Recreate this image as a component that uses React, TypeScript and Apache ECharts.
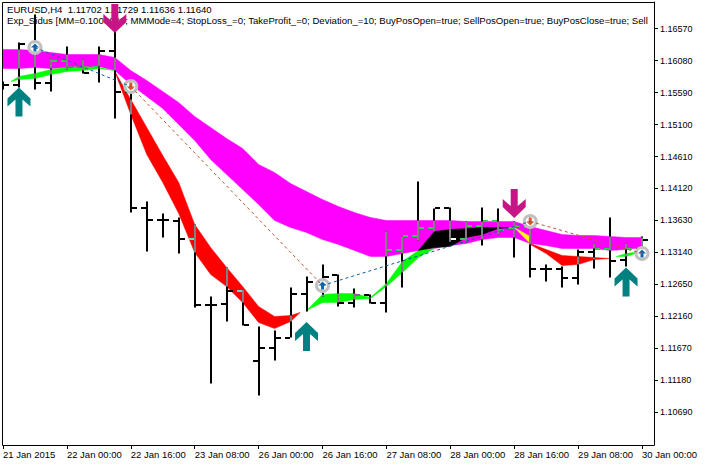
import React, { useEffect, useRef } from "react";
import * as echarts from "echarts";

const headerLine1 = "EURUSD,H4  1.11702 1.11729 1.11636 1.11640";
const headerLine2 =
  "Exp_Sidus [MM=0.1000000; MMMode=4; StopLoss_=0; TakeProfit_=0; Deviation_=10; BuyPosOpen=true; SellPosOpen=true; BuyPosClose=true; SellPosClose=true]";

const timeLabels = ["21 Jan 2015", "22 Jan 00:00", "22 Jan 16:00", "23 Jan 08:00", "26 Jan 00:00", "26 Jan 16:00", "27 Jan 08:00", "28 Jan 00:00", "28 Jan 16:00", "29 Jan 08:00", "30 Jan 00:00"];
const timeTicks = [0, 4, 8, 12, 16, 20, 24, 28, 32, 36, 40];
const priceTicks = [1.1657, 1.1608, 1.1559, 1.151, 1.1461, 1.1412, 1.1363, 1.1314, 1.1265, 1.1216, 1.1167, 1.1118, 1.1069];

const opens = [1.15667, 1.15698, 1.1634, 1.15728, 1.1608, 1.15973, 1.15988, 1.16218, 1.15605, 1.13814, 1.1363, 1.13615, 1.13339, 1.12329, 1.12344, 1.12543, 1.11486, 1.1167, 1.11838, 1.12497, 1.12681, 1.12788, 1.12374, 1.12482, 1.12374, 1.13171, 1.13385, 1.13508, 1.13814, 1.13339, 1.13539, 1.13615, 1.13508, 1.13523, 1.1288, 1.1288, 1.12742, 1.13155, 1.13201, 1.13032, 1.13201];
const highs = [1.15758, 1.16356, 1.16784, 1.16111, 1.16294, 1.16095, 1.16294, 1.16861, 1.15713, 1.13921, 1.13737, 1.13676, 1.13569, 1.12466, 1.1291, 1.12573, 1.12007, 1.11946, 1.12604, 1.12772, 1.12956, 1.12803, 1.12589, 1.12497, 1.13462, 1.13385, 1.14227, 1.13814, 1.13829, 1.13615, 1.13829, 1.13814, 1.13615, 1.13539, 1.12956, 1.12926, 1.13186, 1.13278, 1.13676, 1.13278, 1.13385];
const lows = [1.15636, 1.15667, 1.15636, 1.15605, 1.15942, 1.15881, 1.15743, 1.15192, 1.13753, 1.13155, 1.1337, 1.13125, 1.12298, 1.11134, 1.12083, 1.12022, 1.1095, 1.11486, 1.11838, 1.12237, 1.12466, 1.12313, 1.12298, 1.12359, 1.12221, 1.12604, 1.13324, 1.13462, 1.13309, 1.13293, 1.13247, 1.13416, 1.13063, 1.12757, 1.12696, 1.12604, 1.1265, 1.12895, 1.12757, 1.12926, 1.1314];
const closes = [1.15698, 1.1634, 1.15728, 1.1608, 1.15973, 1.15896, 1.16218, 1.15605, 1.13814, 1.1363, 1.1363, 1.13339, 1.12329, 1.12329, 1.12543, 1.12022, 1.1167, 1.11838, 1.12497, 1.12681, 1.12772, 1.12359, 1.12482, 1.12374, 1.13171, 1.13385, 1.13508, 1.13814, 1.13339, 1.13539, 1.13615, 1.13492, 1.13539, 1.1288, 1.1288, 1.12742, 1.13155, 1.13201, 1.13017, 1.13201, 1.13324];

const slowX = [0, 1, 2, 3, 4, 5, 6, 7, 8, 9, 10, 11, 12, 13, 14, 15, 16, 17, 18, 19, 20, 21, 22, 23, 24, 25, 26, 27, 28, 29, 30, 31, 32, 33, 34, 35, 36, 37, 38, 39, 40];
const slowTop = [1.16248, 1.16248, 1.16233, 1.16202, 1.16172, 1.16172, 1.16172, 1.16126, 1.15927, 1.15774, 1.15605, 1.15437, 1.15223, 1.15054, 1.14886, 1.14733, 1.14488, 1.14365, 1.14197, 1.14074, 1.13952, 1.13844, 1.13752, 1.13676, 1.1363, 1.1363, 1.1363, 1.1363, 1.1363, 1.13615, 1.13615, 1.13615, 1.13615, 1.13539, 1.13477, 1.13416, 1.134, 1.134, 1.13385, 1.1337, 1.1337];
const slowBottom = [1.15958, 1.15958, 1.15973, 1.15958, 1.15973, 1.15973, 1.15988, 1.15927, 1.15713, 1.15529, 1.15345, 1.151, 1.14855, 1.14564, 1.14334, 1.14105, 1.13875, 1.1363, 1.13523, 1.13446, 1.13339, 1.13263, 1.13171, 1.13079, 1.13079, 1.13125, 1.13171, 1.13201, 1.13247, 1.13278, 1.13339, 1.1337, 1.1337, 1.13278, 1.13247, 1.13201, 1.13201, 1.13201, 1.13171, 1.13186, 1.13216];

const green1X = [0.5, 1, 2, 3, 4, 5, 6, 7];
const green1Top = [1.15758, 1.15835, 1.15881, 1.15942, 1.15973, 1.15988, 1.15973, 1.15927];
const green1Bottom = [1.15758, 1.15789, 1.15805, 1.15866, 1.15912, 1.15927, 1.15958, 1.15927];

const red1X = [7, 8, 9, 10, 11, 12, 13, 14, 15, 16, 17, 18, 18.6];
const red1Top = [1.15912, 1.15483, 1.15054, 1.14625, 1.14212, 1.13569, 1.13216, 1.1291, 1.1262, 1.12313, 1.1216, 1.12175, 1.12221];
const red1Bottom = [1.15912, 1.15253, 1.14641, 1.14212, 1.13737, 1.1314, 1.12803, 1.1262, 1.12374, 1.12068, 1.11976, 1.12083, 1.12221];

const green2X = [19, 20, 21, 22, 23, 24, 25, 26, 27];
const green2Top = [1.12252, 1.12497, 1.12513, 1.12513, 1.12451, 1.12665, 1.13002, 1.13171, 1.13201];
const green2Bottom = [1.12252, 1.12374, 1.12374, 1.1242, 1.12436, 1.1262, 1.12834, 1.13063, 1.13201];

const blackX = [26, 27, 28, 29, 30, 31, 32];
const blackTop = [1.13171, 1.13462, 1.13492, 1.13508, 1.13523, 1.13523, 1.13523];
const blackBottom = [1.13171, 1.13216, 1.13232, 1.1337, 1.13416, 1.13508, 1.13523];

const yellowX = [32, 33];
const yellowTop = [1.13523, 1.13385];
const yellowBottom = [1.13523, 1.13278];

const red2X = [33, 34, 35, 36, 37, 38];
const red2Top = [1.13278, 1.13186, 1.13094, 1.13079, 1.13063, 1.13048];
const red2Bottom = [1.13263, 1.13125, 1.12941, 1.12956, 1.13032, 1.13048];

const green3X = [38.4, 39, 40];
const green3Top = [1.13079, 1.13125, 1.13155];
const green3Bottom = [1.13079, 1.13079, 1.13155];

const buyArrowX = [1, 19, 39];
const buyArrowY = [1.15445, 1.11854, 1.12687];
const sellArrowX = [7, 32];
const sellArrowY = [1.16723, 1.1389];

const tradeBuyX = [2, 20, 40];
const tradeBuyY = [1.16279, 1.12635, 1.13125];
const tradeSellX = [8, 33];
const tradeSellY = [1.15682, 1.13615];

const upPath = "path://M11.5 0L23 11V19L15 12V29H8V12L0 19V11Z";
const downPath = "path://M8 0H15V17L23 10V18L11.5 29L0 18V10L8 17Z";
const smallUp = "path://M4 0L8 4H5.5V8H2.5V4H0Z";
const smallDown = "path://M2.5 0H5.5V4H8L4 8L0 4H2.5Z";

const FONT = "'Liberation Sans', Arial, sans-serif";
const yMin = 1.10192;
const yMax = 1.16976;

const zip3 = (x: number[], a: number[], b: number[]) => x.map((v, i) => [v, a[i], b[i]]);

const bands = [
  { color: "#ff00ff", inverse: "#30cc50", x: slowX, top: slowTop, bottom: slowBottom },
  { color: "#00ff00", inverse: "#a050a0", x: green1X, top: green1Top, bottom: green1Bottom },
  { color: "#ff0000", inverse: "#70d8d8", x: red1X, top: red1Top, bottom: red1Bottom },
  { color: "#00ff00", inverse: "#a050a0", x: green2X, top: green2Top, bottom: green2Bottom },
  { color: "#000000", inverse: "#ffffff", x: blackX, top: blackTop, bottom: blackBottom },
  { color: "#ffff00", inverse: "#5050ff", x: yellowX, top: yellowTop, bottom: yellowBottom },
  { color: "#ff0000", inverse: "#70d8d8", x: red2X, top: red2Top, bottom: red2Bottom },
  { color: "#00ff00", inverse: "#a050a0", x: green3X, top: green3Top, bottom: green3Bottom },
];

function bandsAt(xv: number) {
  const out: { top: number; bottom: number; inverse: string }[] = [];
  for (const b of bands) {
    for (let k = 0; k < b.x.length - 1; k++) {
      if (xv >= b.x[k] && xv <= b.x[k + 1]) {
        const t = (xv - b.x[k]) / (b.x[k + 1] - b.x[k]);
        out.push({
          top: b.top[k] + (b.top[k + 1] - b.top[k]) * t,
          bottom: b.bottom[k] + (b.bottom[k + 1] - b.bottom[k]) * t,
          inverse: b.inverse,
        });
        break;
      }
    }
  }
  return out;
}

function tickColor(xv: number, price: number) {
  let c = "#000";
  for (const s of bandsAt(xv)) {
    if (price <= s.top && price >= s.bottom) c = s.inverse;
  }
  return c;
}

const bandSeries = (b: (typeof bands)[number]) => {
  const rows = zip3(b.x, b.top, b.bottom);
  return {
    type: "custom",
    silent: true,
    clip: true,
    data: rows,
    encode: { x: 0, y: [1, 2] },
    renderItem: (params: any, api: any) => {
      if (params.dataIndex !== 0) return null;
      const upper = rows.map((r) => api.coord([r[0], r[1]]));
      const lower = rows.map((r) => api.coord([r[0], r[2]])).reverse();
      return {
        type: "polygon",
        shape: { points: upper.concat(lower) },
        style: { fill: b.color, stroke: b.color, lineWidth: 0.5 },
      };
    },
  };
};

const barRows = opens.map((o, i) => [i, o, highs[i], lows[i], closes[i]]);

const barSeries = {
  type: "custom",
  silent: true,
  clip: true,
  data: barRows,
  encode: { x: 0, y: [1, 2, 3, 4] },
  renderItem: (params: any, api: any) => {
    const i = api.value(0);
    const o = api.value(1);
    const h = api.value(2);
    const l = api.value(3);
    const c = api.value(4);
    const hp = api.coord([i, h]);
    const lp = api.coord([i, l]);
    const op = api.coord([i, o]);
    const cp = api.coord([i, c]);
    const x = Math.round(hp[0]);
    const seg = (x1: number, y1: number, x2: number, y2: number, stroke: string) => ({
      type: "line",
      shape: { x1, y1, x2, y2 },
      style: { stroke, lineWidth: 2 },
    });
    const children: any[] = [seg(x, hp[1], x, lp[1], "#000")];
    for (const s of bandsAt(i)) {
      const top = Math.min(h, s.top);
      const bot = Math.max(l, s.bottom);
      if (top > bot) {
        children.push(seg(x, api.coord([i, top])[1], x, api.coord([i, bot])[1], "#808080"));
      }
    }
    children.push(seg(x - 6, Math.round(op[1]), x - 1, Math.round(op[1]), tickColor(i - 0.2, o)));
    children.push(seg(x + 1, Math.round(cp[1]), x + 6, Math.round(cp[1]), tickColor(i + 0.2, c)));
    return { type: "group", children };
  },
};

const tradeLine = (x1: number, y1: number, x2: number, y2: number, color: string) => ({
  type: "line",
  silent: true,
  symbol: "none",
  data: [[x1, y1], [x2, y2]],
  lineStyle: { color, width: 1, type: [3, 3] },
});

const scatter = (xs: number[], ys: number[], symbol: string, size: number[], itemStyle: any) => ({
  type: "scatter",
  silent: true,
  symbol,
  symbolSize: size,
  data: xs.map((v, i) => [v, ys[i]]),
  itemStyle: { opacity: 1, ...itemStyle },
});

export default function App() {
  const ref = useRef<HTMLDivElement>(null);
  useEffect(() => {
    document.body.style.margin = "0";
    const chart = echarts.init(ref.current!, undefined, { renderer: "svg" });
    chart.setOption({
      animation: false,
      backgroundColor: "#fff",
      grid: { left: 2, top: 2, width: 652, height: 443, show: false },
      xAxis: {
        type: "value",
        min: 0,
        max: 40.75,
        position: "bottom",
        axisLine: { show: true, onZero: false, lineStyle: { color: "#000", width: 1 } },
        axisTick: { show: true, length: 4, customValues: timeTicks, lineStyle: { color: "#000" } },
        axisLabel: {
          show: true,
          customValues: timeTicks,
          align: "left",
          margin: 4,
          color: "#000",
          fontFamily: FONT,
          fontSize: 9.5,
          formatter: (v: number) => timeLabels[timeTicks.indexOf(v)] ?? "",
        },
        splitLine: { show: false },
      },
      yAxis: {
        type: "value",
        min: yMin,
        max: yMax,
        position: "right",
        axisLine: { show: true, onZero: false, lineStyle: { color: "#000", width: 1 } },
        axisTick: { show: true, length: 4, customValues: priceTicks, lineStyle: { color: "#000" } },
        axisLabel: {
          show: true,
          customValues: priceTicks,
          margin: 6,
          color: "#000",
          fontFamily: FONT,
          fontSize: 9,
          formatter: (v: number) => v.toFixed(5),
        },
        splitLine: { show: false },
      },
      graphic: [
        { type: "line", z: 1, shape: { x1: 2.5, y1: 2.5, x2: 654.5, y2: 2.5 }, style: { stroke: "#000", lineWidth: 1 } },
        { type: "line", z: 1, shape: { x1: 2.5, y1: 2.5, x2: 2.5, y2: 445.5 }, style: { stroke: "#000", lineWidth: 1 } },
        { type: "text", z: 0, x: 7, y: 4, style: { text: headerLine1, fontFamily: FONT, fontSize: 9.6, fill: "#000" } },
        {
          type: "text",
          z: 0,
          x: 7,
          y: 15,
          style: { text: headerLine2, fontFamily: FONT, fontSize: 9.6, fill: "#000", width: 647, overflow: "truncate", ellipsis: "" },
        },
      ],
      series: [
        ...bands.map(bandSeries),
        barSeries,
        tradeLine(2, 1.16279, 8, 1.15682, "#0a5f96"),
        tradeLine(8, 1.15682, 20, 1.12635, "#b8562e"),
        tradeLine(20, 1.12635, 33, 1.13615, "#0a5f96"),
        tradeLine(33, 1.13615, 40, 1.13125, "#b8562e"),
        scatter(tradeBuyX, tradeBuyY, "circle", [12, 12], { color: "#fff", borderColor: "#c0c0c0", borderWidth: 3 }),
        scatter(tradeSellX, tradeSellY, "circle", [12, 12], { color: "#fff", borderColor: "#c0c0c0", borderWidth: 3 }),
        scatter(tradeBuyX, tradeBuyY, smallUp, [8, 8], { color: "#1464b4" }),
        scatter(tradeSellX, tradeSellY, smallDown, [8, 8], { color: "#e0552d" }),
        scatter(buyArrowX, buyArrowY, upPath, [23, 29], { color: "#008080" }),
        scatter(sellArrowX, sellArrowY, downPath, [23, 29], { color: "#c71585" }),
      ],
    });
    return () => chart.dispose();
  }, []);
  return <div ref={ref} style={{ width: 706, height: 465 }} />;
}
